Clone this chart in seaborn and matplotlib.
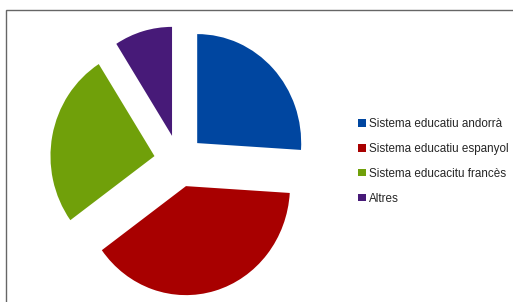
import matplotlib.pyplot as plt
import matplotlib.patches as mpatches
import seaborn as sns

categories = ["Sistema educatiu andorrà", "Sistema educatiu espanyol",
              "Sistema educacitu francès", "Altres"]
values = [26, 39, 26, 9]
colors = ["#0046A0", "#A80000", "#70A00A", "#471A78"]

sns.set_theme(style="white")
plt.rcParams['font.family'] = ['Liberation Sans Narrow', 'Liberation Sans', 'DejaVu Sans']

W, H = 513, 302
fig = plt.figure(figsize=(W / 100, H / 100), dpi=100)

# frame around the chart area
fig.patches.append(mpatches.Rectangle((6 / W, -0.1), 1.2, 1 - 10 / H + 0.1,
                                      transform=fig.transFigure, fill=False,
                                      edgecolor="#666666", linewidth=1.0))

# pie slightly squashed horizontally: rx 104 px, ry 109 px, centre (179, 161)
rx, ry = 104, 109
ax = fig.add_axes([(179 - 1.5 * rx) / W, (H - 161 - 1.5 * ry) / H, 3 * rx / W, 3 * ry / H])
wedges, _ = ax.pie(values, colors=colors, startangle=90, counterclock=False,
                   explode=[0.24] * 4, radius=1,
                   wedgeprops={"linewidth": 0})
ax.set_aspect("auto")
ax.set_xlim(-1.5, 1.5)
ax.set_ylim(-1.5, 1.5)
ax.axis("off")

fig.legend(wedges, categories, loc="upper left", bbox_to_anchor=(358 / W, 1 - 118 / H),
           frameon=False, fontsize=8.4, handlelength=0.65, handleheight=0.65,
           handletextpad=0.3, labelspacing=1.1, borderpad=0, borderaxespad=0)

plt.savefig("out.png", dpi=100)
